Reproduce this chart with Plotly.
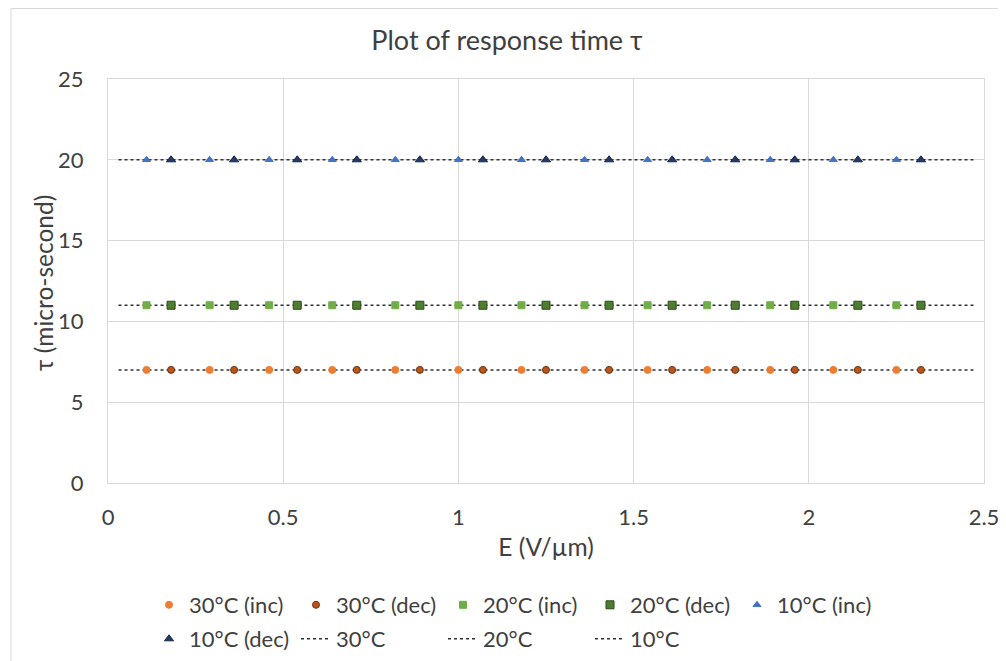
import plotly.graph_objects as go

# field values E (V/um) for increasing / decreasing sweeps
e_inc = [0.11, 0.29, 0.46, 0.64, 0.82, 1.0, 1.18, 1.36, 1.54, 1.71, 1.89, 2.07, 2.25]
e_dec = [0.18, 0.36, 0.54, 0.71, 0.89, 1.07, 1.25, 1.43, 1.61, 1.79, 1.96, 2.14, 2.32]

# response time tau (micro-second)
tau_30_inc = [7, 7, 7, 7, 7, 7, 7, 7, 7, 7, 7, 7, 7]
tau_30_dec = [7, 7, 7, 7, 7, 7, 7, 7, 7, 7, 7, 7, 7]
tau_20_inc = [11, 11, 11, 11, 11, 11, 11, 11, 11, 11, 11, 11, 11]
tau_20_dec = [11, 11, 11, 11, 11, 11, 11, 11, 11, 11, 11, 11, 11]
tau_10_inc = [20, 20, 20, 20, 20, 20, 20, 20, 20, 20, 20, 20, 20]
tau_10_dec = [20, 20, 20, 20, 20, 20, 20, 20, 20, 20, 20, 20, 20]

# fitted constant lines
line_x = [0.03, 2.47]
line_30 = [7, 7]
line_20 = [11, 11]
line_10 = [20, 20]

font = "Lato"
txt = "#404040"
grid = "#D9D9D9"

# page has an 8px body margin, so the figure is 8px smaller than the window
W, H = 998, 653
L, R, T, B = 100, 22, 71, 178
PW, PH = W - L - R, H - T - B

fig = go.Figure()

# dotted lines first so markers sit on top
for name, ys, rank in [("30°C", line_30, 2), ("20°C", line_20, 3), ("10°C", line_10, 4)]:
    fig.add_trace(go.Scatter(x=line_x, y=ys, mode="lines", name=name, legendrank=rank,
                             legend="legend2",
                             line=dict(color="#303030", width=1.5, dash="dot")))

marker_series = [
    ("30°C (inc)", e_inc, tau_30_inc, "circle", "#ED7D31", "#ED7D31", 7, "legend", 1),
    ("30°C (dec)", e_dec, tau_30_dec, "circle", "#B8561E", "#6E3210", 7, "legend", 2),
    ("20°C (inc)", e_inc, tau_20_inc, "square", "#70AD47", "#70AD47", 7, "legend", 3),
    ("20°C (dec)", e_dec, tau_20_dec, "square", "#4E7F30", "#2A4A18", 8, "legend", 4),
    ("10°C (inc)", e_inc, tau_10_inc, "triangle-up", "#4472C4", "#4472C4", 7, "legend", 5),
    ("10°C (dec)", e_dec, tau_10_dec, "triangle-up", "#253A6B", "#172645", 8, "legend2", 1),
]
for name, xs, ys, sym, col, edge, sz, leg, rank in marker_series:
    fig.add_trace(go.Scatter(x=xs, y=ys, mode="markers", name=name, legendrank=rank,
                             legend=leg,
                             marker=dict(symbol=sym, color=col, size=sz,
                                         line=dict(color=edge, width=1))))

leg_x = (141 - L) / PW
fig.update_layout(
    width=W, height=H,
    margin=dict(l=L, r=R, t=T, b=B, autoexpand=False),
    paper_bgcolor="white", plot_bgcolor="white",
    font=dict(family=font, size=22, color=txt),
    title=dict(text="Plot of response time τ", x=0.5, xanchor="center",
               y=1 - 33 / H, yanchor="middle", font=dict(size=27, color=txt)),
    legend=dict(orientation="h", x=leg_x, xanchor="left",
                y=(PH + T - 597) / PH, yanchor="middle",
                entrywidth=102, entrywidthmode="pixels", itemwidth=30,
                font=dict(size=22, color=txt), bgcolor="rgba(0,0,0,0)"),
    legend2=dict(orientation="h", x=leg_x, xanchor="left",
                 y=(PH + T - 631) / PH, yanchor="middle",
                 entrywidth=102, entrywidthmode="pixels", itemwidth=30,
                 font=dict(size=22, color=txt), bgcolor="rgba(0,0,0,0)"),
    showlegend=True,
)

fig.update_xaxes(range=[0, 2.5], dtick=0.5, showgrid=True, gridcolor=grid,
                 zeroline=False, showline=True, linecolor=grid, mirror=True,
                 ticks="outside", ticklen=15, tickcolor="rgba(0,0,0,0)",
                 tickfont=dict(size=22, color=txt),
                 title=dict(text="E (V/µm)", font=dict(size=24.5, color=txt), standoff=9))
fig.update_yaxes(range=[0, 25], dtick=5, showgrid=True, gridcolor=grid,
                 zeroline=False, showline=True, linecolor=grid, mirror=True,
                 ticks="outside", ticklen=19, tickcolor="rgba(0,0,0,0)",
                 tickfont=dict(size=22, color=txt))

# y axis title as an annotation so it can sit closer to the tick labels
fig.add_annotation(text="τ (micro-second)", textangle=-90, showarrow=False,
                   xref="paper", yref="paper", x=(35 - L) / PW, y=(PH + T - 275) / PH,
                   xanchor="center", yanchor="middle",
                   font=dict(size=24.5, color=txt))

# outer chart border: only the left and top edges are inside the window
bx = (3 - L) / PW
by = (PH + T - 0.5) / PH
fig.add_shape(type="line", xref="paper", yref="paper", x0=bx, x1=bx, y0=-B / PH, y1=by,
              line=dict(color=grid, width=1))
fig.add_shape(type="line", xref="paper", yref="paper", x0=bx, x1=(W - L) / PW, y0=by, y1=by,
              line=dict(color=grid, width=1))

fig.write_html("out.html")
